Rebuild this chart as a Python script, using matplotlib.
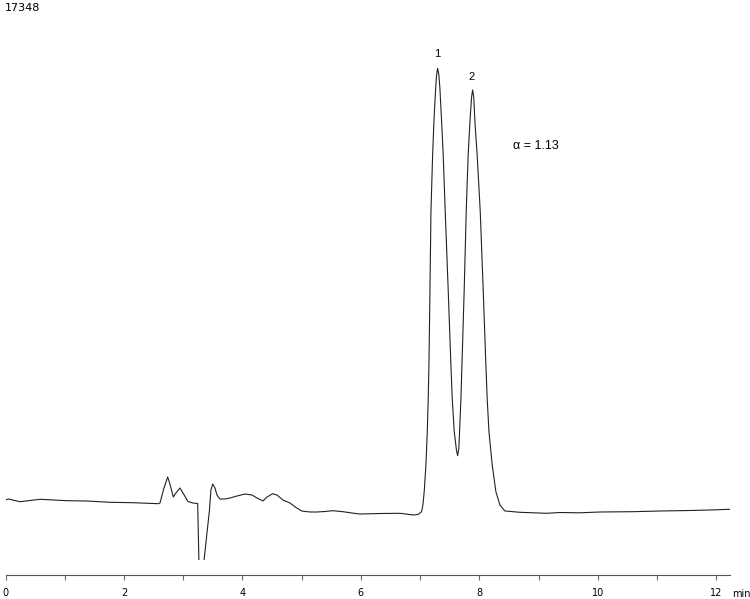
import numpy as np
import matplotlib
matplotlib.use("Agg")
import matplotlib.pyplot as plt
from matplotlib.ticker import MultipleLocator

# retention time (min) and detector signal (mV)
time_min = [0.000, 0.047, 0.245, 0.582, 1.033, 1.371, 1.764, 2.152, 2.579, 2.608,
            2.675, 2.738, 2.776, 2.832, 2.877, 2.945, 2.996, 3.080, 3.164, 3.244,
            3.279, 3.342, 3.405, 3.443, 3.468, 3.497, 3.536, 3.570, 3.620, 3.704,
            3.789, 3.908, 4.042, 4.160, 4.262, 4.346, 4.414, 4.510, 4.583, 4.683,
            4.802, 4.903, 4.999, 5.139, 5.253, 5.393, 5.527, 5.696, 5.848, 5.983,
            6.321, 6.659, 6.883, 6.963, 7.024, 7.046, 7.068, 7.097, 7.120, 7.136,
            7.148, 7.165, 7.182, 7.210, 7.232, 7.261, 7.277, 7.294, 7.316, 7.333,
            7.362, 7.389, 7.423, 7.473, 7.519, 7.541, 7.575, 7.612, 7.632, 7.653,
            7.665, 7.688, 7.705, 7.743, 7.777, 7.810, 7.840, 7.868, 7.885, 7.904,
            7.924, 7.962, 8.014, 8.064, 8.109, 8.131, 8.161, 8.216, 8.278, 8.346,
            8.430, 8.571, 8.684, 9.134, 9.359, 9.697, 10.034, 10.591, 11.047, 11.553,
            11.891, 12.228]
signal_mv = [1.40, 1.50, 1.23, 1.47, 1.33, 1.30, 1.17, 1.13, 1.03, 1.10,
             2.60, 3.70, 3.00, 1.70, 2.10, 2.60, 2.10, 1.25, 1.10, 1.05,
             -8.6, -10.1, -8.6, 0.40, 2.40, 3.00, 2.60, 1.90, 1.50, 1.50,
             1.60, 1.80, 2.00, 1.90, 1.55, 1.30, 1.70, 2.03, 1.90, 1.40,
             1.10, 0.65, 0.30, 0.20, 0.20, 0.25, 0.33, 0.23, 0.10, 0.00,
             0.05, 0.07, -0.10, -0.05, 0.23, 0.90, 2.23, 4.90, 8.23, 11.57,
             14.90, 22.40, 30.23, 35.90, 39.23, 42.57, 43.90, 44.57, 43.90, 42.57,
             39.23, 35.90, 30.23, 22.40, 14.90, 11.57, 8.23, 6.40, 5.83, 6.60,
             8.23, 11.57, 14.90, 22.40, 30.23, 35.90, 39.23, 41.70, 42.40, 41.70,
             39.23, 35.90, 30.23, 22.40, 14.90, 11.57, 8.23, 4.90, 2.23, 0.90,
             0.30, 0.23, 0.17, 0.07, 0.15, 0.12, 0.20, 0.23, 0.30, 0.35,
             0.40, 0.47]

peak_labels = ["1", "2"]
peak_label_pos = [(7.295, 46.0), (7.868, 43.7)]
alpha_text = "α = 1.13"
alpha_pos = (8.565, 36.8)
sample_id = "17348"

W, H = 750, 599
fig = plt.figure(figsize=(W / 100, H / 100), dpi=100)
# axes spans t = 0 (x = 5.5 px) to t = 12.23 (x = 730 px)
ax = fig.add_axes([5.5 / W, (H - 560) / H, 724.5 / W, 520 / H])

ax.plot(time_min, signal_mv, color="#222222", lw=0.8)
ax.set_xlim(0, 12.23)
ax.set_ylim(-4.6, 47.4)

for lab, (x, y) in zip(peak_labels, peak_label_pos):
    ax.text(x, y, lab, ha="center", va="center", fontsize=8, family="Liberation Sans")
ax.text(alpha_pos[0], alpha_pos[1], alpha_text, ha="left", va="center",
        fontsize=9, family="Liberation Sans")

# only the time axis, pushed a little below the trace
for s in ["left", "right", "top"]:
    ax.spines[s].set_visible(False)
ax.spines["bottom"].set_position(("outward", 15 * 72 / 100))
ax.spines["bottom"].set_linewidth(0.8)
ax.spines["bottom"].set_color("#555555")
ax.set_yticks([])
ax.xaxis.set_major_locator(MultipleLocator(2))
ax.xaxis.set_minor_locator(MultipleLocator(1))
ax.tick_params(axis="x", which="both", direction="out", length=3.6, width=0.8,
               color="#666666", labelsize=7, pad=6)
ax.xaxis.set_major_formatter(plt.FuncFormatter(lambda v, p: f"{v:g}"))

fig.text(5 / W, 1 - 8 / H, sample_id, ha="left", va="center", fontsize=8)
fig.text(732 / W, 1 - 594 / H, "min", ha="left", va="center", fontsize=7)

fig.savefig("out.png", dpi=100)
